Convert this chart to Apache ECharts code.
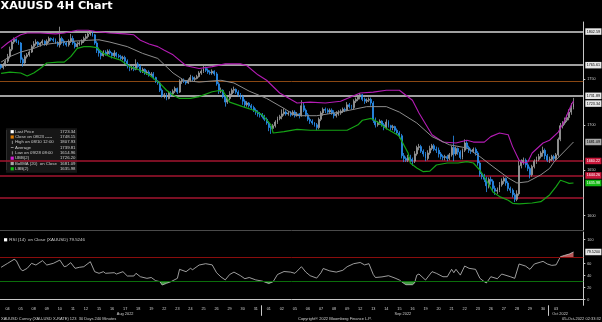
<!DOCTYPE html>
<html>
<head>
<meta charset="utf-8">
<script src="https://cdn.jsdelivr.net/npm/echarts@6.0.0/dist/echarts.min.js"></script>
<style>
html,body{margin:0;padding:0;background:#000;overflow:hidden;}
#chart{width:602px;height:322px;}
</style>
</head>
<body>
<div id="chart"></div>
<script>
// ---------- categories (trading days, 4H bars) ----------
const days = ['08/04','08/05','08/08','08/09','08/10','08/11','08/12','08/15','08/16','08/17','08/18','08/19','08/22','08/23','08/24','08/25','08/26','08/29','08/30','08/31',
  '09/01','09/02','09/05','09/06','09/07','09/08','09/09','09/12','09/13','09/14','09/15','09/16','09/19','09/20','09/21','09/22','09/23','09/26','09/27','09/28','09/29','09/30',
  '10/03','10/04'];
const hours = ['00:00','04:00','08:00','12:00','16:00','20:00'];
const padSlots = ['pad1','pad2','pad3','pad4'];
const monthLabels = {'08/17':'Aug 2022','09/15':'Sep 2022','10/03':'Oct 2022'};

// ---------- candles (one row per day) ----------
const opens = [
1765,1763,1766,1770,1775,1783, 1791,1794,1792,1790,1772,1768, 1775,1777,1780,1786,1789,1791, 1788,1790,1792,1789,1792,1795,
1794,1793,1790,1788,1795,1792, 1790,1788,1792,1795,1790,1786, 1789,1790,1792,1795,1797,1800, 1801,1799,1790,1782,1779,1776,
1780,1778,1781,1779,1776,1779, 1776,1775,1773,1774,1770,1765, 1762,1763,1761,1767,1764,1759, 1761,1757,1758,1755,1756,1752,
1748,1746,1738,1732,1733,1729, 1735,1734,1737,1740,1736,1748, 1749,1748,1746,1749,1752,1750, 1751,1753,1757,1759,1762,1760,
1758,1757,1759,1756,1745,1737, 1738,1731,1725,1729,1734,1738, 1739,1736,1733,1731,1726,1722, 1724,1721,1719,1716,1714,1712,
1711,1709,1706,1702,1697,1696, 1699,1703,1707,1709,1712,1714, 1712,1713,1711,1714,1710,1712, 1710,1721,1716,1711,1706,1704,
1702,1700,1697,1706,1713,1717, 1716,1714,1716,1713,1710,1712, 1713,1715,1717,1716,1722,1720, 1719,1726,1728,1731,1733,1728,
1726,1727,1728,1724,1705,1700, 1702,1704,1700,1697,1703,1699, 1697,1698,1694,1691,1688,1666, 1663,1661,1664,1662,1660,1668,
1675,1676,1671,1668,1663,1669, 1674,1677,1673,1672,1668,1665, 1664,1665,1663,1667,1675,1668, 1674,1670,1664,1672,1680,1675,
1672,1671,1673,1669,1658,1646, 1643,1640,1633,1640,1638,1630, 1627,1628,1634,1638,1641,1636, 1630,1628,1623,1618,1624,1655,
1659,1661,1656,1652,1645,1654, 1660,1662,1665,1669,1672,1666, 1661,1662,1665,1663,1667,1684, 1699,1702,1705,1708,1714,1719];
const closes = [
1763,1766,1770,1775,1783,1791, 1794,1792,1790,1772,1768,1775, 1777,1780,1786,1789,1791,1788, 1790,1792,1789,1792,1795,1794,
1793,1790,1788,1795,1792,1790, 1788,1792,1795,1790,1786,1789, 1790,1792,1795,1797,1800,1801, 1799,1790,1782,1779,1776,1780,
1778,1781,1779,1776,1779,1776, 1775,1773,1774,1770,1765,1762, 1763,1761,1767,1764,1759,1761, 1757,1758,1755,1756,1752,1748,
1746,1738,1732,1733,1729,1735, 1734,1737,1740,1736,1748,1749, 1748,1746,1749,1752,1750,1751, 1753,1757,1759,1762,1760,1758,
1757,1759,1756,1745,1737,1738, 1731,1725,1729,1734,1738,1739, 1736,1733,1731,1726,1722,1724, 1721,1719,1716,1714,1712,1711,
1709,1706,1702,1697,1696,1699, 1703,1707,1709,1712,1714,1712, 1713,1711,1714,1710,1712,1710, 1721,1716,1711,1706,1704,1702,
1700,1697,1706,1713,1717,1716, 1714,1716,1713,1710,1712,1713, 1715,1717,1716,1722,1720,1719, 1726,1728,1731,1733,1728,1726,
1727,1728,1724,1705,1700,1702, 1704,1700,1697,1703,1699,1697, 1698,1694,1691,1688,1666,1663, 1661,1664,1662,1660,1668,1675,
1676,1671,1668,1663,1669,1674, 1677,1673,1672,1668,1665,1664, 1665,1663,1667,1675,1668,1674, 1670,1664,1672,1680,1675,1672,
1671,1673,1669,1658,1646,1643, 1640,1633,1640,1638,1630,1627, 1628,1634,1638,1641,1636,1630, 1628,1623,1618,1624,1655,1659,
1661,1656,1652,1645,1654,1660, 1662,1665,1669,1672,1666,1661, 1662,1665,1663,1667,1684,1699, 1702,1705,1708,1714,1719,1723.34];
const highs = [
1767,1768,1772,1778,1786,1793, 1796,1795,1793,1791,1774,1777, 1779,1782,1788,1792,1794,1792, 1791,1794,1793,1794,1797,1796,
1796,1795,1792,1807.93,1797,1794, 1792,1794,1800,1798,1792,1791, 1792,1794,1797,1800,1802,1803, 1803,1800,1792,1785,1781,1782,
1782,1783,1783,1780,1782,1780, 1778,1777,1776,1776,1772,1767, 1765,1765,1772,1769,1766,1763, 1762,1760,1760,1758,1758,1753,
1749,1747,1740,1735,1735,1737, 1737,1739,1742,1741,1750,1751, 1751,1749,1751,1755,1754,1753, 1755,1759,1761,1765,1764,1762,
1760,1761,1760,1758,1747,1741, 1739,1733,1731,1737,1740,1742, 1740,1738,1735,1733,1728,1726, 1725,1723,1721,1718,1716,1714,
1713,1711,1708,1704,1699,1701, 1705,1709,1711,1717,1718,1716, 1715,1715,1716,1716,1714,1713, 1727,1724,1718,1713,1708,1706,
1703,1702,1708,1715,1719,1719, 1718,1718,1718,1716,1715,1716, 1717,1719,1719,1725,1724,1722, 1728,1730,1733,1735,1734,1730,
1729,1730,1730,1726,1708,1704, 1706,1705,1702,1706,1705,1700, 1700,1699,1696,1693,1690,1669, 1665,1667,1667,1664,1671,1677,
1679,1678,1673,1670,1672,1677, 1679,1679,1676,1675,1670,1667, 1667,1667,1669,1677,1688,1676, 1675,1672,1674,1684,1682,1677,
1674,1675,1675,1671,1660,1648, 1646,1643,1642,1643,1640,1633, 1631,1637,1641,1643,1642,1638, 1632,1630,1625,1628,1660,1662,
1664,1663,1658,1654,1656,1662, 1665,1668,1671,1676,1674,1668, 1665,1667,1667,1669,1686,1702, 1704,1708,1711,1717,1724,1729.6];
const lows = [
1761,1761,1764,1768,1773,1781, 1789,1790,1788,1768,1764,1767, 1773,1775,1779,1784,1787,1786, 1786,1788,1787,1787,1790,1792,
1791,1789,1786,1785,1789,1787, 1786,1786,1790,1788,1784,1785, 1787,1788,1790,1793,1795,1798, 1797,1788,1779,1775,1772,1775,
1776,1776,1777,1773,1774,1774, 1773,1771,1771,1767,1762,1759, 1760,1759,1760,1762,1757,1757, 1755,1755,1753,1753,1750,1746,
1744,1736,1730,1729,1727,1728, 1731,1732,1735,1734,1735,1745, 1746,1744,1745,1747,1748,1748, 1750,1752,1755,1757,1758,1756,
1755,1755,1754,1743,1734,1735, 1729,1720,1723,1727,1731,1735, 1734,1731,1728,1722,1719,1720, 1719,1717,1714,1711,1709,1708,
1707,1704,1700,1693,1690,1694, 1697,1701,1705,1706,1710,1710, 1710,1709,1710,1708,1709,1707, 1709,1714,1709,1704,1701,1700,
1698,1694,1695,1704,1710,1713, 1712,1712,1711,1707,1708,1710, 1711,1713,1714,1715,1718,1717, 1717,1724,1726,1728,1726,1723,
1724,1725,1721,1702,1697,1698, 1700,1698,1694,1695,1697,1694, 1694,1692,1689,1685,1663,1659, 1659,1659,1659,1655,1658,1666,
1672,1669,1665,1660,1661,1667, 1672,1671,1669,1664,1662,1661, 1661,1660,1661,1665,1660,1666, 1667,1662,1662,1670,1673,1669,
1668,1669,1666,1655,1643,1640, 1637,1626,1630,1634,1626,1623, 1624,1626,1632,1635,1633,1627, 1625,1620,1614.96,1616,1622,1652,
1656,1653,1649,1641,1643,1652, 1657,1660,1663,1665,1662,1659, 1658,1660,1660,1661,1665,1682, 1696,1700,1703,1705,1711,1717];

// ---------- Bollinger bands [bar index, value] ----------
const ubb = [[0,1784],[3,1790],[6,1795],[9,1799],[12,1801],[18,1801],[25,1800],[29,1801],[35,1804],[40,1804],[43,1803],[50,1801],[57,1800],[61,1799],
 [64,1793],[68,1789],[72,1786],[75,1782],[79,1777],[85,1765],[91,1762],[97,1764],[103,1767],[110,1767],[113,1765],[118,1755],[122,1749],[128,1735],
 [136,1724],[142,1725],[149,1724],[156,1726],[159,1729],[165,1735],[171,1736],[177,1738],[183,1738],[189,1727],[192,1713],[198,1689],[203,1681],
 [209,1680],[214,1683],[217,1681],[222,1681],[225,1687],[229,1691],[233,1689],[235,1676],[238,1661],[240,1658],[242,1659],[244,1669],[249,1680],
 [252,1683],[256,1692],[259,1705],[262,1722],[263,1726.20]];
const bollMA = [[0,1769],[4,1775],[9,1780],[15,1784],[19,1788],[30,1791.5],[40,1793],[45,1793.5],[50,1791],[58,1786],[65,1778.6],[72,1773],[79,1757],
 [84,1749],[91,1747],[101,1749],[107,1746],[114,1737],[122,1729],[130,1718],[134,1712],[137,1710],[145,1710],[153,1713],[160,1716],[168,1720],
 [177,1720],[183,1714],[191,1702],[198,1687],[206,1678],[214,1674.5],[220,1665],[226,1654],[233,1641.5],[237,1636],[242,1637.4],[248,1645],
 [252,1652],[254,1659],[263,1681.09]];
const lbb = [[0,1756.6],[4,1758],[9,1757],[12,1753.7],[15,1757],[18,1762],[21,1768],[26,1769],[29,1769],[32,1775],[35,1784],[38,1786],[41,1786],
 [44,1785],[47,1778.6],[50,1775],[55,1771],[59,1764],[64,1760],[68,1754.8],[73,1745.6],[76,1738],[79,1732.8],[82,1729],[87,1729],[91,1731],
 [97,1736.4],[101,1738],[102,1737],[105,1725],[111,1720],[116,1716],[120,1711],[124,1700],[125,1691],[130,1692.4],[136,1695],[142,1694],
 [153,1694],[159,1694],[164,1700],[166,1705],[170,1707],[173,1703],[177,1696],[182,1689],[183,1687],[187,1669],[188,1658],[191,1652.5],
 [194,1648.4],[197,1649],[200,1655.8],[205,1658],[210,1658],[214,1659.4],[217,1658],[220,1650],[223,1639],[226,1626],[229,1621],[233,1617],
 [235,1613.6],[238,1613],[244,1614],[248,1615.4],[252,1622.8],[255,1632],[257,1639],[259,1637.4],[261,1635.6],[263,1635.98]];

// ---------- RSI(14) [bar index, value] ----------
const rsi = [[0,54],[3,60.6],[6,67.3],[7,65],[9,50.6],[10,48.3],[12,52.3],[14,60.6],[16,57.8],[19,65],[21,57.8],[24,60.6],[27,66],[29,55],[30,56],
 [32,61.7],[34,52.3],[36,54],[38,55],[41,63.3],[43,46.7],[45,44],[47,46.7],[48,44],[52,45],[53,42.8],[56,46.7],[58,39.5],[61,39.5],[62,44],
 [64,38.3],[67,35.6],[69,37],[71,31.7],[73,30],[74,24.5],[76,27.3],[78,30],[81,35.6],[82,50.6],[85,46.7],[87,52.3],[88,50],[91,57.8],[94,60],
 [97,58],[99,45],[101,38],[103,33],[105,42],[107,46],[110,40],[112,35],[114,37],[117,33],[120,31],[123,27],[125,30],[127,42],[130,47],[133,46],
 [135,44],[138,55],[140,46],[142,40],[145,36],[147,45],[148,52],[151,48],[154,46],[157,49],[159,55],[162,60],[165,62],[167,58],[169,60],[171,42],
 [172,37],[175,38],[178,40],[181,36],[183,32.8],[185,27.3],[186,25],[189,25],[190,28],[191,41],[192,42.8],[195,32.8],[198,46.7],[200,44],
 [203,38.3],[205,38.3],[207,50.6],[208,45],[209,50.6],[211,41],[213,56.1],[215,52.3],[218,50.6],[220,35.6],[222,30],[223,28],[225,38.3],[228,35],
 [230,42.8],[234,38.3],[236,35.6],[238,59.5],[241,56],[243,50.6],[245,59.5],[248,62.8],[249,63.9],[251,59.5],[253,57.2],[255,58],[257,71.7],
 [259,74],[261,76],[263,79.5246]];

// ---------- axis ticks and reference levels ----------
const priceTicks = [1600,1650,1700,1750];
const rsiTicks = [0,20,40,60,100];
const whiteLevels = [1802.59,1765.61,1731.89];
const redLevels = [1660.22,1644.26];
const redPlainLevels = [1620];
const closeLevel = 1748.15;
const rsiUpper = 70, rsiLower = 30;

const legendRows = [
  ['Last Price','1723.34'],
  ['Close on 08/23 -----','1748.15'],
  ['High on 08/10 12:00','1807.93'],
  ['Average','1739.81'],
  ['Low on 09/28 08:00','1614.96'],
  ['UBB(2)','1726.20'],
  ['BollMA (20)  on Close','1681.09'],
  ['LBB(2)','1635.98']
];

// ---------- build ----------
const cats = [];
days.forEach(d => hours.forEach(h => cats.push(d + ' ' + h)));
padSlots.forEach(p => cats.push(p));
const monthStarts = [];
days.forEach((d, i) => { if (i > 0 && d.slice(0,2) !== days[i-1].slice(0,2)) monthStarts.push(i * hours.length); });
const candles = opens.map((o, i) => [o, closes[i], lows[i], highs[i]]);
const lastPrice = closes[closes.length - 1];
const maLast = bollMA[bollMA.length - 1][1];
const lbbLast = lbb[lbb.length - 1][1];
const rsiLast = rsi[rsi.length - 1][1];

const FONT = 'Liberation Sans';
const TXT = '#cfcfcf';
const HIDDEN = {color:'rgba(0,0,0,0)', width:0};
function boxLabel(bg, fg, digits) {
  return { show: true, position: 'end', distance: 2, formatter: p => Number(p.value).toFixed(digits || 2),
    backgroundColor: bg, color: fg, fontSize: 3.7, fontFamily: FONT, padding: [1.4, 1.4, 1.1, 1.4], opacity: 1 };
}
const monthRich = {'08/17':'ma','09/15':'ms','10/03':'mo'};

const legendY0 = 131.7, legendDy = 5.3;
const legendIcon = [
  {type:'sq', c:'#ffffff'}, {type:'sq', c:'#e07b00'}, {type:'v', c:'#bbbbbb'}, {type:'h', c:'#bbbbbb'},
  {type:'v', c:'#bbbbbb'}, {type:'sq', c:'#d21fd2'}, {type:'sq', c:'#a8a8a8'}, {type:'sq', c:'#12c012'}
];
const graphics = [
  {type:'text', x:0.5, y:1, z:10, style:{text:'XAUUSD 4H Chart', font:'bold 11.2px "DejaVu Sans"', fill:'#ffffff', align:'left', verticalAlign:'top', textAlign:'left', textVerticalAlign:'top'}},
  {type:'rect', z:1, shape:{x:6, y:128.3, width:71, height:44.5}, style:{fill:'#161616'}},
  {type:'rect', z:1, shape:{x:6.3, y:130, width:0.7, height:40}, style:{fill:'#3a3a3a'}}
];
legendRows.forEach((r, i) => {
  const y = legendY0 + i * legendDy;
  const ic = legendIcon[i];
  if (ic.type === 'sq') graphics.push({type:'rect', z:1, shape:{x:10.6, y:y - 1.6, width:3.2, height:3.2}, style:{fill:ic.c}});
  else if (ic.type === 'v') graphics.push({type:'rect', z:1, shape:{x:11.9, y:y - 1.6, width:0.7, height:3.2}, style:{fill:ic.c}});
  else graphics.push({type:'rect', z:1, shape:{x:10.8, y:y - 0.35, width:2.8, height:0.7}, style:{fill:ic.c}});
  graphics.push({type:'text', z:1, x:15, y:y, style:{text:r[0], font:'4.3px "Liberation Sans"', fill:TXT, align:'left', verticalAlign:'middle', textAlign:'left', textVerticalAlign:'middle'}});
  graphics.push({type:'text', z:1, x:75.5, y:y, style:{text:r[1], font:'4.3px "Liberation Sans"', fill:TXT, align:'right', verticalAlign:'middle', textAlign:'right', textVerticalAlign:'middle'}});
});
graphics.push({type:'rect', z:10, shape:{x:4, y:238.2, width:3.2, height:3.2}, style:{fill:'#ffffff'}});
graphics.push({type:'text', z:10, x:9.3, y:239.8, style:{text:'RSI (14)  on Close (XAUUSD) ' + rsiLast.toFixed(4), font:'4.4px "Liberation Sans"', fill:TXT, align:'left', verticalAlign:'middle', textAlign:'left', textVerticalAlign:'middle'}});
graphics.push({type:'text', z:10, x:1, y:319.3, style:{text:'XAUUSD Curncy (XAU-USD X-RATE) 123  30 Days 240 Minutes', font:'4px "Liberation Sans"', fill:TXT, align:'left', verticalAlign:'middle', textAlign:'left', textVerticalAlign:'middle'}});
graphics.push({type:'text', z:10, x:298, y:319.3, style:{text:'Copyright\u00ae 2022 Bloomberg Finance L.P.', font:'4px "Liberation Sans"', fill:TXT, align:'left', verticalAlign:'middle', textAlign:'left', textVerticalAlign:'middle'}});
graphics.push({type:'text', z:10, x:601, y:319.3, style:{text:'05-Oct-2022 02:33:32', font:'4px "Liberation Sans"', fill:TXT, align:'right', verticalAlign:'middle', textAlign:'right', textVerticalAlign:'middle'}});

const plainNum = v => String(v);
const option = {
  backgroundColor: '#000000',
  animation: false,
  textStyle: {fontFamily: FONT},
  grid: [
    {left: 0, right: 18.7, top: 22, bottom: 92, outerBoundsMode: 'none'},
    {left: 0, right: 18.7, top: 232, bottom: 16.7, outerBoundsMode: 'none'}
  ],
  xAxis: [
    {type:'category', gridIndex:0, data:cats, boundaryGap:true,
     axisLine:{show:true, lineStyle:{color:'#4a4a4a', width:1}}, axisTick:{show:false}, axisLabel:{show:false}, splitLine:{show:false}},
    {type:'category', gridIndex:1, data:cats, boundaryGap:true,
     axisLine:{show:true, lineStyle:{color:'#c8c8c8', width:1}},
     axisTick:{show:false}, splitLine:{show:false}, splitArea:{show:false},
     axisLabel:{show:true, hideOverlap:false, margin:1, interval:(idx, val) => String(val).slice(6) === '12:00',
       formatter:(val) => { const md = val.slice(0,5); const d = val.slice(3,5); return monthLabels[md] ? '{d|' + d + '}\n{' + monthRich[md] + '|' + monthLabels[md] + '}' : '{d|' + d + '}'; },
       rich:{ d:{fontSize:3.8, lineHeight:5.4, color:TXT, fontFamily:FONT},
              ma:{fontSize:3.9, lineHeight:5.4, color:TXT, fontFamily:FONT},
              ms:{fontSize:3.9, lineHeight:5.4, color:TXT, fontFamily:FONT, padding:[0,0,0,7]},
              mo:{fontSize:3.9, lineHeight:5.4, color:TXT, fontFamily:FONT, padding:[0,0,0,8]} }}}
  ],
  yAxis: [
    {type:'value', gridIndex:0, position:'right', min:1584.27, max:1813.1, splitLine:{show:false},
     axisLine:{show:true, lineStyle:{color:'#c8c8c8', width:1}},
     axisTick:{show:true, customValues:priceTicks, length:2, lineStyle:{color:'#c8c8c8'}},
     axisLabel:{show:true, customValues:priceTicks, formatter:plainNum, margin:4, fontSize:3.7, color:TXT, fontFamily:FONT}},
    {type:'value', gridIndex:1, position:'right', min:-9.33, max:112.83, splitLine:{show:false},
     axisLine:{show:true, lineStyle:{color:'#c8c8c8', width:1}},
     axisTick:{show:true, customValues:rsiTicks, length:2, lineStyle:{color:'#c8c8c8'}},
     axisLabel:{show:true, customValues:rsiTicks, formatter:plainNum, margin:4, fontSize:3.7, color:TXT, fontFamily:FONT}}
  ],
  visualMap: [{
    show:false, type:'piecewise', seriesIndex:5, dimension:1,
    pieces:[{lt:rsiLower, color:'#3f9a3f'}, {gte:rsiLower, lte:rsiUpper, color:'rgba(0,0,0,0)'}, {gt:rsiUpper, color:'#b65a5a'}],
    outOfRange:{color:'rgba(0,0,0,0)'}
  }],
  series: [
    {type:'candlestick', xAxisIndex:0, yAxisIndex:0, data:candles, barWidth:1.45, clip:false, z:3,
     itemStyle:{color:'#7c7c7c', color0:'#2a8ff0', borderColor:'#a2a2a2', borderColor0:'#2a8ff0', borderWidth:0.8},
     markLine:{symbol:['none','none'], silent:true, animation:false, z:2,
       data:[].concat(
         whiteLevels.map(v => ({yAxis:v, lineStyle:{color:'#d6d6d6', width:1.7, type:'solid'}, label:boxLabel('#e6e6e6','#000')})),
         [{yAxis:closeLevel, lineStyle:{color:'#8a4712', width:1, type:'solid'}, label:{show:false}}],
         redLevels.map(v => ({yAxis:v, lineStyle:{color:'#a3142f', width:1.6, type:'solid'}, label:boxLabel('#c8173a','#ffffff')})),
         redPlainLevels.map(v => ({yAxis:v, lineStyle:{color:'#a3142f', width:1.6, type:'solid'}, label:{show:false}})),
         [{yAxis:lastPrice, lineStyle:HIDDEN, label:boxLabel('#e6e6e6','#000')},
          {yAxis:maLast, lineStyle:HIDDEN, label:boxLabel('#a8a8a8','#000')},
          {yAxis:lbbLast, lineStyle:HIDDEN, label:boxLabel('#14b814','#ffffff')}]
       )}},
    {type:'line', xAxisIndex:0, yAxisIndex:0, data:ubb, showSymbol:false, symbol:'none', z:4, lineStyle:{color:'#b41cb4', width:1.1}},
    {type:'line', xAxisIndex:0, yAxisIndex:0, data:bollMA, showSymbol:false, symbol:'none', z:4, lineStyle:{color:'#8c8c8c', width:1}},
    {type:'line', xAxisIndex:0, yAxisIndex:0, data:lbb, showSymbol:false, symbol:'none', z:4, lineStyle:{color:'#15a315', width:1.2}},
    {type:'line', xAxisIndex:1, yAxisIndex:1, data:rsi, showSymbol:false, symbol:'none', z:4, clip:false, lineStyle:{color:'#c4c4c4', width:0.8},
     markLine:{symbol:['none','none'], silent:true, animation:false,
       data:[{yAxis:rsiUpper, lineStyle:{color:'#8a0c0c', width:1, type:'solid'}, label:{show:false}},
             {yAxis:rsiLower, lineStyle:{color:'#0b6e0b', width:1, type:'solid'}, label:{show:false}},
             {yAxis:rsiLast, lineStyle:HIDDEN, label:boxLabel('#e6e6e6','#000',4)}]}},
    {type:'line', xAxisIndex:1, yAxisIndex:1, data:rsi, showSymbol:false, symbol:'none', z:3, lineStyle:{width:0},
     areaStyle:{origin:rsiLower, opacity:1}}
  ]
};
const chart = echarts.init(document.getElementById('chart'), null, {renderer:'canvas', width:602, height:322});
chart.setOption(option);
// month separators below the time axis, at the band boundary where a new month begins
const c0 = chart.convertToPixel({xAxisIndex:1}, 0);
const c1 = chart.convertToPixel({xAxisIndex:1}, 1);
const band = c1 - c0;
const axisY = chart.convertToPixel({yAxisIndex:1}, -9.33);
monthStarts.forEach(idx => {
  const x = Math.round(chart.convertToPixel({xAxisIndex:1}, idx) - band / 2) + 0.5;
  graphics.push({type:'line', z:10, shape:{x1:x, y1:axisY, x2:x, y2:axisY + 10.5}, style:{stroke:'#c8c8c8', lineWidth:1}});
});
chart.setOption({graphic: graphics});
</script>
</body>
</html>
